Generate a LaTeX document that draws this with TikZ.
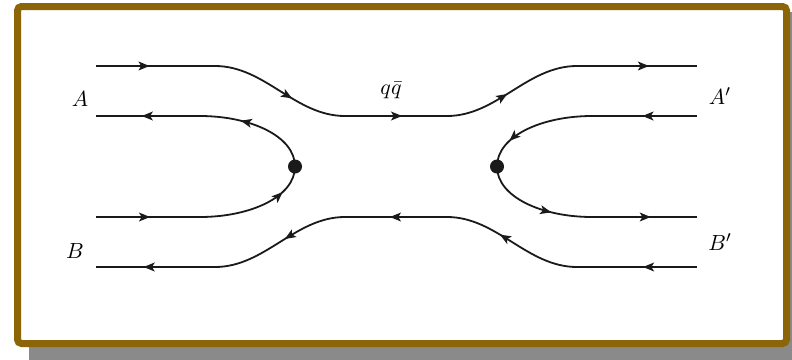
\documentclass[tikz,border=0pt]{standalone}
\usepackage{amsmath,amssymb}
\usepackage{tikz}
\usepackage{xcolor}
\usetikzlibrary{arrows.meta,positioning,decorations.markings}
\definecolor{rim}      {HTML}{8C6508}
\definecolor{drop}     {HTML}{8A8A8A}
\definecolor{ink}      {HTML}{1A1A1A}
\tikzset{
  quark/.style={draw=ink,line width=0.9pt},
  arr/.style={postaction={decorate},decoration={markings,
      mark=at position #1 with {\arrow{Stealth[length=5.5pt,width=4.4pt,inset=1.3pt]}}}},
  vertex/.style={circle,fill=ink,inner sep=0pt,minimum size=7pt},
  lbl/.style={font=\fontsize{11}{13}\selectfont,inner sep=0pt}
}

\begin{document}
\begin{tikzpicture}[x=0.5pt,y=-0.5pt]
  \clip (0,0) rectangle (792,359);
  % frame and its shadow
  \fill[drop] (29,12) rectangle (800,370);
  \draw[draw=rim,line width=3.5pt,fill=white,rounded corners=2pt]
    (17.5,6.5) rectangle (786.5,343.5);

  % ends of the lines and the two vertices
  \coordinate (A1)  at (96,66);
  \coordinate (A2)  at (96,116);
  \coordinate (B1)  at (96,217);
  \coordinate (B2)  at (96,267);
  \coordinate (Ap1) at (697,66);
  \coordinate (Ap2) at (697,116);
  \coordinate (Bp1) at (697,217);
  \coordinate (Bp2) at (697,267);
  \node[vertex] (vl) at (295,166.5) {};
  \node[vertex] (vr) at (497,166.5) {};

  % upper line, A to A'
  \draw[quark,arr=0.45] (A1) -- (215,66);
  \draw[quark,arr=0.6]  (215,66) .. controls (265,66) and (295,116) .. (345,116);
  \draw[quark,arr=0.56] (345,116) -- (447,116);
  \draw[quark,arr=0.46] (447,116) .. controls (497,116) and (527,66) .. (577,66);
  \draw[quark,arr=0.6]  (577,66) -- (Ap1);

  % lower line, B' to B
  \draw[quark,arr=0.45] (Bp2) -- (577,267);
  \draw[quark,arr=0.6]  (577,267) .. controls (527,267) and (497,217) .. (447,217);
  \draw[quark,arr=0.56] (447,217) -- (345,217);
  \draw[quark,arr=0.46] (345,217) .. controls (295,217) and (265,267) .. (215,267);
  \draw[quark,arr=0.6]  (215,267) -- (B2);

  % left vertex
  \draw[quark,arr=0.65] (vl.center) .. controls (295,136) and (250,116) .. (200,116);
  \draw[quark,arr=0.56] (200,116) -- (A2);
  \draw[quark,arr=0.52] (B1) -- (200,217);
  \draw[quark,arr=0.75] (200,217) .. controls (250,217) and (295,197) .. (vl.center);

  % right vertex
  \draw[quark,arr=0.52] (Ap2) -- (592,116);
  \draw[quark,arr=0.75] (592,116) .. controls (542,116) and (497,136) .. (vr.center);
  \draw[quark,arr=0.65] (vr.center) .. controls (497,197) and (542,217) .. (592,217);
  \draw[quark,arr=0.56] (592,217) -- (Bp1);

  % labels
  \node[lbl] (lA)  at (80,99)   {$A$};
  \node[lbl] (lB)  at (75,251)  {$B$};
  \node[lbl] (lAp) at (720,96)  {$A'$};
  \node[lbl] (lBp) at (720,242) {$B'$};
  \node[lbl] (lqq) at (391,90)  {$q\bar{q}$};
\end{tikzpicture}
\end{document}
